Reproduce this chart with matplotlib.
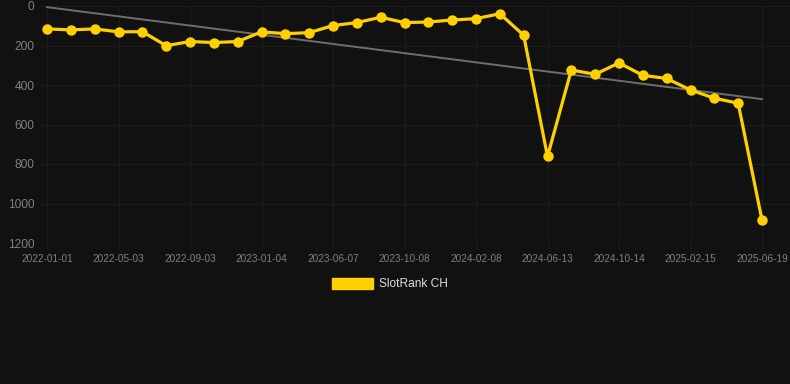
import numpy as np
import matplotlib
matplotlib.use("Agg")
import matplotlib.pyplot as plt
from matplotlib.patches import Patch

plt.rcParams['font.family'] = ['Liberation Sans', 'DejaVu Sans']

# 排名数据（数值越小越好，y轴反向）
rank_values = [116, 121, 116, 131, 130, 201, 180, 185, 180, 131,
               140, 135, 99, 84, 57, 84, 81, 71, 64, 39,
               148, 762, 324, 346, 288, 351, 367, 425, 467, 492,
               1084]
tick_labels = ['2022-01-01', '2022-05-03', '2022-09-03', '2023-01-04',
               '2023-06-07', '2023-10-08', '2024-02-08', '2024-06-13',
               '2024-10-14', '2025-02-15', '2025-06-19']
y_ticks = [0, 200, 400, 600, 800, 1000, 1200]
series_name = 'SlotRank CH'

bg = '#111111'
gold = '#FFD000'

fig = plt.figure(figsize=(7.9, 3.84), dpi=100, facecolor=bg)
W, H = 790, 384
left, right, top, bottom = 40, 790, 6, 243
ax = fig.add_axes([left / W, 1 - bottom / H, (right - left) / W, (bottom - top) / H])
ax.set_facecolor(bg)

x = np.arange(len(rank_values))

# 趋势线（线性回归）
k, b = np.polyfit(x, rank_values, 1)
ax.plot(x, k * x + b, color='#6e6e6e', lw=1.4, zorder=2)

ax.plot(x, rank_values, color=gold, lw=2.3, marker='o', ms=7.5,
        markeredgewidth=0, zorder=3)

# x轴：每3个点一个刻度
px = (762 - 47) / 30
ax.set_xlim(-(47 - left) / px, 30 + (right - 762) / px)
ax.set_xticks(x[::3])
ax.set_xticklabels(tick_labels)
ax.set_ylim(1200, 0)
ax.set_yticks(y_ticks)

ax.grid(True, color='#1c1c1c', lw=0.8)
ax.tick_params(axis='x', colors='#808080', labelsize=7.2, length=4, color='#1c1c1c', pad=4)
ax.tick_params(axis='y', colors='#808080', labelsize=8.6, length=0, pad=4)
for s in ax.spines.values():
    s.set_visible(False)

handle = Patch(facecolor=gold, edgecolor=gold)
fig.legend([handle], [series_name], loc='center', bbox_to_anchor=(390 / W, 1 - 284 / H),
           frameon=False, fontsize=8.6, labelcolor='#dddddd',
           handlelength=3.4, handleheight=1.1, handletextpad=0.5)

fig.savefig('out.png', dpi=100, facecolor=bg)
